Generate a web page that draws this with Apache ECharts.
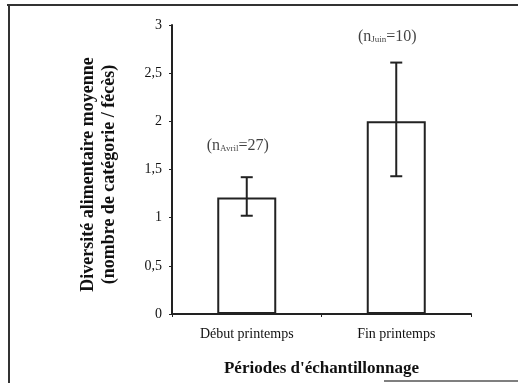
<!DOCTYPE html>
<html><head><meta charset="utf-8">
<script src="https://cdn.jsdelivr.net/npm/echarts@6/dist/echarts.min.js"></script>
<style>html,body{margin:0;padding:0;background:#fff}#c{width:518px;height:383px}</style>
</head><body><div id="c"></div>
<script>
const categories = ['Début printemps', 'Fin printemps'];
const means = [1.21, 2.0];
const errLow = [1.02, 1.43];
const errHigh = [1.42, 2.61];
const nLabels = ['Avril', 'Juin'];
const nValues = [27, 10];
const labelY = [1.75, 2.88];
const yTicks = ['0', '0,5', '1', '1,5', '2', '2,5', '3'];

const serif = '"Liberation Serif", "DejaVu Serif", serif';
const chart = echarts.init(document.getElementById('c'), null, {renderer: 'canvas'});
chart.setOption({
  animation: false,
  backgroundColor: '#fff',
  grid: {left: 172, right: 47, top: 25, bottom: 69},
  graphic: [
    {type: 'line', shape: {x1: 7, y1: 5, x2: 518, y2: 5}, style: {stroke: '#333', lineWidth: 2}},
    {type: 'line', shape: {x1: 9, y1: 5, x2: 9, y2: 383}, style: {stroke: '#333', lineWidth: 2}},
    {type: 'line', shape: {x1: 384, y1: 381, x2: 518, y2: 381}, style: {stroke: '#555', lineWidth: 1.5}}
  ],
  xAxis: {
    type: 'category',
    data: categories,
    name: "Périodes d'échantillonnage",
    nameLocation: 'middle',
    nameGap: 46,
    nameTextStyle: {fontFamily: serif, fontWeight: 'bold', fontSize: 17, color: '#111'},
    axisLine: {lineStyle: {color: '#222', width: 2}},
    axisTick: {show: true, length: 3, lineStyle: {color: '#222'}},
    axisLabel: {fontFamily: serif, fontSize: 14, color: '#111', margin: 13},
    splitLine: {show: false}
  },
  yAxis: {
    type: 'value',
    min: 0, max: 3, interval: 0.5,
    name: 'Diversité alimentaire moyenne\n(nombre de catégorie / fécès)',
    nameLocation: 'middle',
    nameRotate: 90,
    nameGap: 52,
    nameTextStyle: {fontFamily: serif, fontWeight: 'bold', fontSize: 18, color: '#111', lineHeight: 21, padding: [0, 10, 0, 0]},
    axisLine: {show: true, lineStyle: {color: '#222', width: 2}},
    axisTick: {show: true, length: 3, lineStyle: {color: '#222'}},
    axisLabel: {fontFamily: serif, fontSize: 14, color: '#111', margin: 10,
      formatter: (v) => yTicks[Math.round(v * 2)]},
    splitLine: {show: false}
  },
  series: [
    {
      type: 'bar',
      data: means,
      barWidth: 59,
      itemStyle: {color: '#fff', borderColor: '#222', borderWidth: 2}
    },
    {
      type: 'custom',
      data: categories.map((c, i) => [i, errLow[i], errHigh[i]]),
      renderItem: function (params, api) {
        const lo = api.coord([api.value(0), api.value(1)]);
        const hi = api.coord([api.value(0), api.value(2)]);
        const hw = 6;
        const st = {stroke: '#222', lineWidth: 2};
        return {type: 'group', children: [
          {type: 'line', shape: {x1: lo[0], y1: lo[1], x2: hi[0], y2: hi[1]}, style: st},
          {type: 'line', shape: {x1: hi[0] - hw, y1: hi[1], x2: hi[0] + hw, y2: hi[1]}, style: st},
          {type: 'line', shape: {x1: lo[0] - hw, y1: lo[1], x2: lo[0] + hw, y2: lo[1]}, style: st}
        ]};
      },
      z: 5
    },
    {
      type: 'scatter',
      symbolSize: 0,
      data: categories.map((c, i) => [i, labelY[i]]),
      label: {
        show: true,
        position: 'inside',
        offset: [-9, 0],
        formatter: (p) => '{n|(n}{s|' + nLabels[p.dataIndex] + '}{n|=' + nValues[p.dataIndex] + ')}',
        rich: {
          n: {fontFamily: serif, fontSize: 16, color: '#111'},
          s: {fontFamily: serif, fontSize: 9, color: '#111', verticalAlign: 'bottom', padding: [7, 0, 0, 0]}
        }
      }
    }
  ]
});
</script></body></html>
